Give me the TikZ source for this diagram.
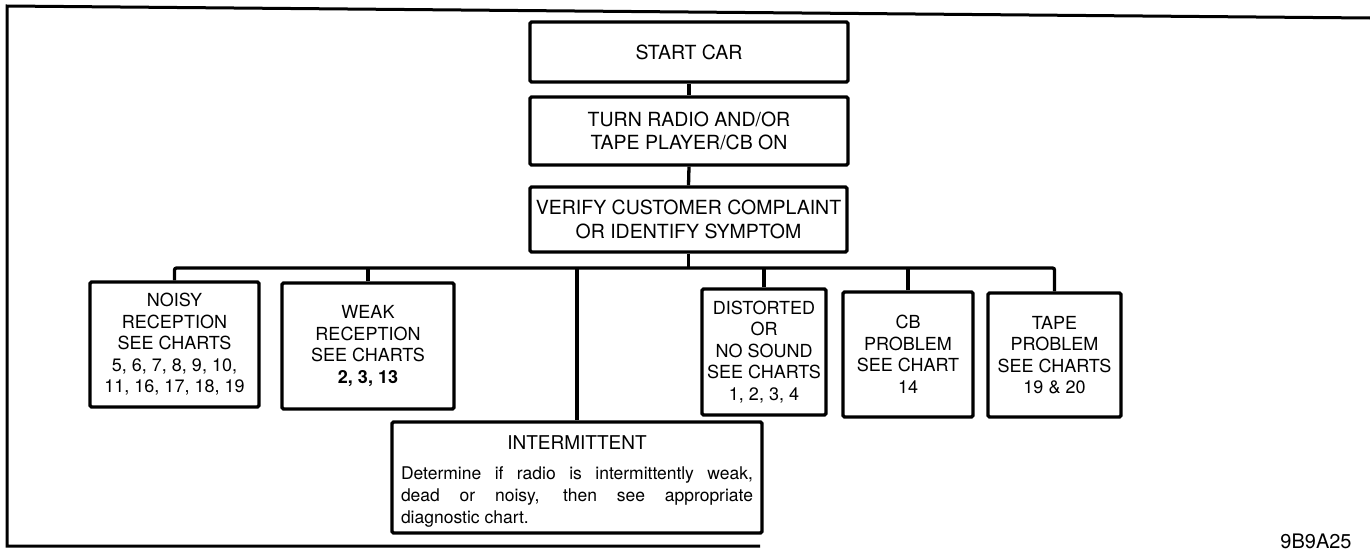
\documentclass[tikz,border=0pt]{standalone}
\usepackage{fontspec}
\setmainfont{TeX Gyre Heros}
\begin{document}
\begin{tikzpicture}[x=1pt,y=-1pt,
  box/.style={draw, line width=3.3pt, rounded corners=1.5pt, inner sep=0pt, align=center,
    font=\fontsize{18}{21.5}\selectfont},
  topbox/.style={box, font=\fontsize{19.5}{23.5}\selectfont},
  conn/.style={line width=3.3pt, rounded corners=2pt},
  frame/.style={line width=3pt}]
\useasboundingbox (0,0) rectangle (1370,552);
% frame
\draw[frame] (1370,18) -- (7,6) -- (7,546) -- (760,546);
% top chain
\node[topbox, minimum width=318pt, minimum height=60pt] (start) at (689,52) {START CAR};
\node[topbox, minimum width=318pt, minimum height=68pt] (turn) at (689,131) {TURN RADIO AND/OR\\TAPE PLAYER/CB ON};
\node[topbox, minimum width=317pt, minimum height=65pt] (verify) at (688.5,219.5) {VERIFY CUSTOMER COMPLAINT\\OR IDENTIFY SYMPTOM};
% children
\node[box, minimum width=169pt, minimum height=125pt] (noisy) at (174.5,344.5)
  {NOISY\\RECEPTION\\SEE CHARTS\\5, 6, 7, 8, 9, 10,\\11, 16, 17, 18, 19};
\node[box, minimum width=172pt, minimum height=126pt] (weak) at (368,346)
  {WEAK\\RECEPTION\\SEE CHARTS\\\textbf{2, 3, 13}};
\node[box, minimum width=124pt, minimum height=126pt] (dist) at (764,352)
  {DISTORTED\\OR\\NO SOUND\\SEE CHARTS\\1, 2, 3, 4};
\node[box, minimum width=130pt, minimum height=125pt] (cb) at (908,354.5)
  {CB\\PROBLEM\\SEE CHART\\14};
\node[box, minimum width=133pt, minimum height=124pt] (tape) at (1054.5,355)
  {TAPE\\PROBLEM\\SEE CHARTS\\19 \& 20};
\node[box, minimum width=370pt, minimum height=111pt, align=left] (inter) at (577,477.5)
  {\begin{minipage}{352pt}\vspace*{8pt}\centering\fontsize{19}{22}\selectfont INTERMITTENT\par\vspace{8pt}
   \fontsize{17.5}{22}\selectfont\leftskip=0pt\rightskip=0pt\parfillskip=0pt plus 1fil\parindent=0pt
   Determine if radio is intermittently weak,\linebreak dead or noisy, then see appropriate\linebreak diagnostic chart.\end{minipage}};
% connectors
\coordinate (bus) at (688.5,268);
\draw[conn] (start.south) -- (turn.north);
\draw[conn] (turn.south) -- (verify.north);
\draw[conn] (verify.south) -- (bus);
\draw[conn] (noisy.north) |- (bus) -| (tape.north);
\draw[conn] (weak.north) -- (weak.north |- bus);
\draw[conn] (inter.north) -- (inter.north |- bus);
\draw[conn] (dist.north) -- (dist.north |- bus);
\draw[conn] (cb.north) -- (cb.north |- bus);
% label
\node[font=\fontsize{20}{22}\selectfont, inner sep=0pt] (code) at (1316,541) {9B9A25};
\end{tikzpicture}
\end{document}
